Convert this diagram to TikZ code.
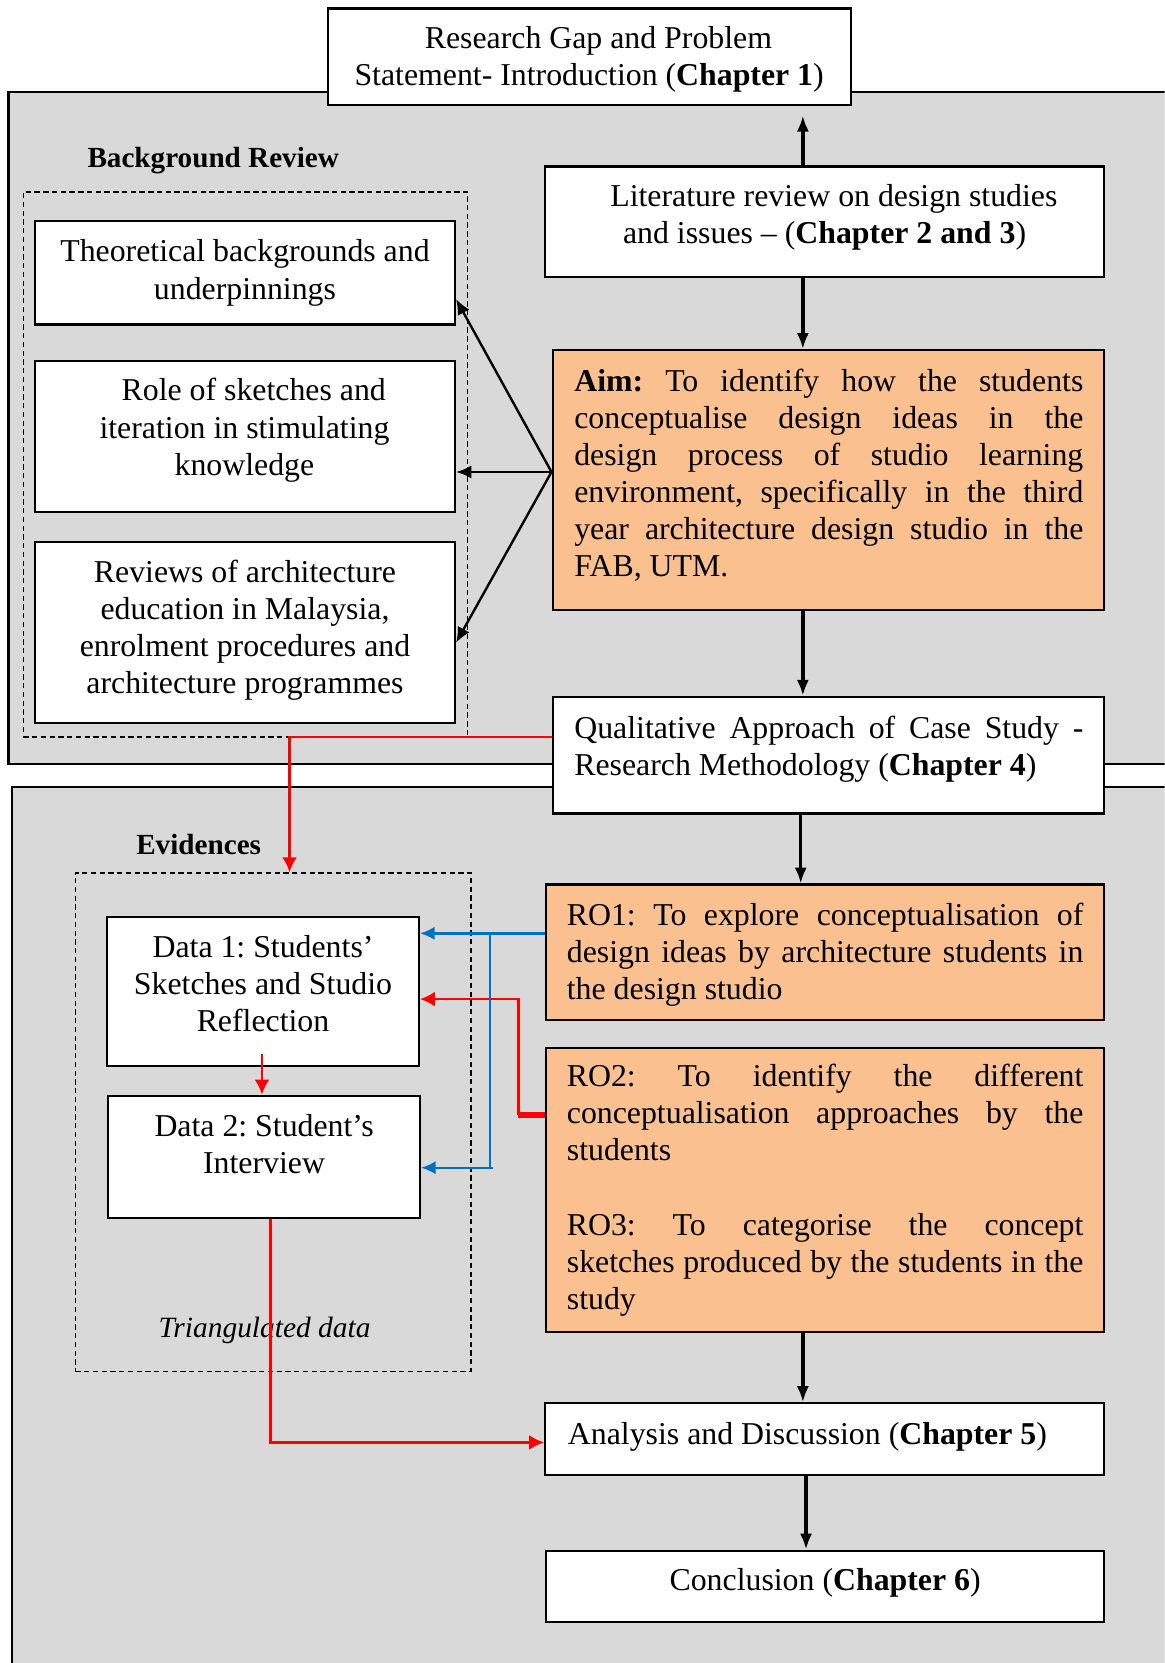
\documentclass[tikz,border=0pt]{standalone}
\usepackage{fontspec}
\setmainfont{Liberation Serif}
\usetikzlibrary{arrows.meta,fit}
\definecolor{bggray}{HTML}{D9D9D9}
\definecolor{aimorange}{HTML}{FAC090}
\definecolor{lnred}{HTML}{FF0000}
\definecolor{lnblue}{HTML}{0070C0}
\frenchspacing
\begin{document}
\begin{tikzpicture}[x=0.4pt,y=-0.4pt,
  box/.style={draw=black,line width=0.8pt,fill=white,inner sep=0pt},
  obox/.style={box,fill=aimorange},
  txt/.style={inner sep=0pt,font=\fontsize{12}{14}\selectfont},
  ttl/.style={inner sep=0pt,font=\fontsize{11}{13}\selectfont\bfseries},
  region/.style={draw=black,line width=0.8pt,fill=bggray,inner sep=0pt},
  dbox/.style={draw=black,line width=0.5pt,dash pattern=on 2pt off 1.3pt,inner sep=0pt},
  flow/.style={draw=black,line width=1.3pt,-{Latex[length=6pt,width=4.6pt]}},
  thinflow/.style={draw=black,line width=0.9pt,-{Latex[length=5.8pt,width=5pt]}},
  redln/.style={draw=lnred,line width=0.9pt},
  redarr/.style={redln,-{Latex[length=5.6pt,width=5.6pt]}},
  bluearr/.style={draw=lnblue,line width=0.9pt,-{Latex[length=5.5pt,width=5pt]}},
  blueln/.style={draw=lnblue,line width=0.9pt}
]
\useasboundingbox (0,0) rectangle (1098,1568);
\clip (0,0) rectangle (1098,1568);

% background regions
\node[region, fit={(8,87)(1130,720)}] (upper) {};
\node[region, fit={(11,742)(1130,1610)}] (lower) {};

% dashed groups
\node[dbox, fit={(22,181)(441,695)}] (bgdash) {};
\node[dbox, fit={(71,823)(444,1293)}] (evdash) {};

% boxes
\node[box, fit={(309,8)(802,99)}] (gap) {};
\node[box, fit={(33,208)(429,306)}] (theo) {};
\node[box, fit={(33,340)(429,483)}] (role) {};
\node[box, fit={(33,511)(429,682)}] (rev) {};
\node[box, fit={(514,157)(1041,261)}] (lit) {};
\node[obox, fit={(521,330)(1041,575)}] (aim) {};
\node[box, fit={(521,657)(1041,767)}] (qual) {};
\node[box, fit={(101,865)(395,1005)}] (d1) {};
\node[box, fit={(102,1033)(396,1148)}] (d2) {};
\node[obox, fit={(515,834)(1041,962)}] (ro1) {};
\node[obox, fit={(515,988)(1041,1256)}] (ro2) {};
\node[box, fit={(514,1323)(1041,1391)}] (ana) {};
\node[box, fit={(515,1462)(1041,1529)}] (concl) {};

% texts
\begin{scope}[yshift=-1.2pt]
\node[txt, align=center] (gaptxt) at (555.5,53.5)
  {\strut\hspace*{7pt}Research Gap and Problem\\Statement- Introduction (\textbf{Chapter 1})\strut};
\node[ttl, anchor=west] (bgtitle) at (82,148) {Background Review};
\node[txt, align=center] (theotxt) at (231,254.5)
  {\strut Theoretical backgrounds and\\underpinnings\strut};
\node[txt, align=center] (roletxt) at (230.5,403)
  {\strut\hspace*{7pt}Role of sketches and\\iteration in stimulating\\knowledge\strut};
\node[txt, align=center] (revtxt) at (231,591.5)
  {\strut Reviews of architecture\\education in Malaysia,\\enrolment procedures and\\architecture programmes\strut};
\node[txt, align=center] (littxt) at (777.5,202.5)
  {\strut\hspace*{7pt}Literature review on design studies\\and issues -- (\textbf{Chapter 2 and 3})\strut};
\node[txt, align=left, anchor=west] (aimtxt) at (541,446.5)
  {\strut\makebox[192pt][s]{\textbf{Aim:} To identify how the students}\\
   \makebox[192pt][s]{conceptualise design ideas in the}\\
   \makebox[192pt][s]{design process of studio learning}\\
   \makebox[192pt][s]{environment, specifically in the third}\\
   \makebox[192pt][s]{year architecture design studio in the}\\
   FAB, UTM.\strut};
\node[txt, align=left, anchor=west] (qualtxt) at (541,704)
  {\strut\makebox[192pt][s]{Qualitative Approach of Case Study -}\\
   Research Methodology (\textbf{Chapter 4})\strut};
\node[ttl, anchor=west] (evtitle) at (128,793) {Evidences};
\node[txt, align=center] (d1txt) at (248,927.5)
  {\strut Data 1: Students'\\Sketches and Studio\\Reflection\strut};
\node[txt, align=center] (d2txt) at (249,1079)
  {\strut Data 2: Student's\\Interview\strut};
\node[txt, align=left, anchor=west] (ro1txt) at (534,897.5)
  {\strut\makebox[194.8pt][s]{RO1: To explore conceptualisation of}\\
   \makebox[194.8pt][s]{design ideas by architecture students in}\\
   the design studio\strut};
\node[txt, align=left, anchor=west] (ro2txt) at (534,1119.5)
  {\strut\makebox[194.8pt][s]{RO2: To identify the different}\\
   \makebox[194.8pt][s]{conceptualisation approaches by the}\\
   students\\
   \strut\\
   \makebox[194.8pt][s]{RO3: To categorise the concept}\\
   \makebox[194.8pt][s]{sketches produced by the students in the}\\
   study\strut};
\node[txt, font=\fontsize{11.1}{13}\selectfont] (tritxt) at (249.5,1251) {\textit{Triangulated data}};
\node[txt, anchor=west] (anatxt) at (535,1352)
  {\strut Analysis and Discussion (\textbf{Chapter 5})\strut};
\node[txt] (concltxt) at (778,1490)
  {\strut Conclusion (\textbf{Chapter 6})\strut};
\end{scope}

% black flow arrows
\draw[flow, shorten >=3.6pt] (757,0 |- lit.north) -- (757,0 |- gap.south);
\draw[flow] (757,0 |- lit.south) -- (757,0 |- aim.north);
\draw[flow] (757,0 |- aim.south) -- (757,0 |- qual.north);
\draw[flow] (755,0 |- qual.south) -- (755,0 |- ro1.north);
\draw[flow] (757,0 |- ro2.south) -- (757,0 |- ana.north);
\draw[flow] (760,0 |- ana.south) -- (760,0 |- concl.north);

% aim to background boxes
\coordinate (aimpt) at (aim.west |- 0,445);
\draw[thinflow] (aimpt) -- (theo.east |- 0,282);
\draw[thinflow] (aimpt) -- (role.east |- 0,445);
\draw[thinflow] (aimpt) -- (rev.east |- 0,606);

% red connectors
\draw[redarr] (qual.west |- 0,695) -- (273,695) -- (273,0 |- evdash.north);
\coordinate (d1out) at (247,994);
\draw[redarr] (d1out) -- (247,0 |- d2.north);
\draw[draw=lnred, line width=2.2pt] (ro2.west |- 0,1051) -- (488,1051);
\draw[redarr] (489,1051) -- (489,942) -- (d1.east |- 0,942);
\draw[redarr] (255,0 |- d2.south) -- (255,1360) -- (ana.west |- 0,1360);

% blue connectors
\draw[bluearr] (ro1.west |- 0,880) -- (d1.east |- 0,880);
\draw[blueln] (462,880) -- (462,1101) -- (465,1101);
\draw[bluearr] (462,1101) -- (d2.east |- 0,1101);
\end{tikzpicture}
\end{document}
